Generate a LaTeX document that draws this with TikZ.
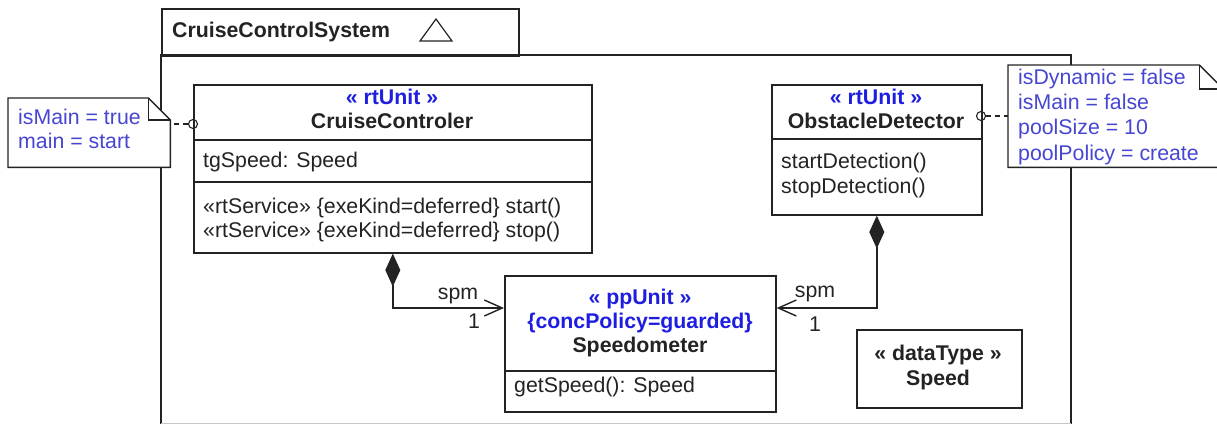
\documentclass[tikz,border=0pt]{standalone}
\usepackage{fontspec}
\setmainfont{Liberation Sans}
\usetikzlibrary{arrows.meta}
\definecolor{stereo}{RGB}{30,30,225}
\definecolor{notetxt}{RGB}{70,70,210}
\definecolor{ink}{RGB}{35,35,35}
\begin{document}
\begin{tikzpicture}[x=1pt,y=-1pt,
  box/.style={draw=ink, line width=1.6pt, fill=white, inner sep=0pt, anchor=north west},
  sep/.style={draw=ink, line width=1.4pt},
  txt/.style={inner sep=0pt, text=ink, font=\fontsize{21.3}{24}\selectfont, anchor=mid, yshift=-4pt},
  ltxt/.style={txt, anchor=mid west},
  btxt/.style={txt, font=\fontsize{21.3}{24}\selectfont\bfseries},
  stxt/.style={btxt, text=stereo},
  ntxt/.style={txt, anchor=mid west, text=notetxt},
  notebox/.style={draw=ink, line width=1.4pt, fill=white},
  notenode/.style={inner sep=0pt, anchor=north west},
  port/.style={circle, draw=ink, line width=1.1pt, minimum size=9pt, inner sep=0pt},
  link/.style={draw=ink, line width=1.3pt, dash pattern=on 5pt off 4pt},
  comp/.style={draw=ink, line width=1.6pt,
    {Diamond[length=33pt,width=15pt,fill=ink]}-{Straight Barb[length=18pt,width=16pt,line width=1.4pt]}}
]
\useasboundingbox (0,0) rectangle (1217,424);

% frame
\node[box, line width=1.8pt, minimum width=357pt, minimum height=47pt] (tab) at (161,8) {};
\node[btxt, anchor=mid west] (tabtitle) at (172,31) {CruiseControlSystem};
\draw[ink, line width=1.2pt] (420,41) -- (452,41) -- (436,19) -- cycle;
\draw[ink, line width=1.8pt] (161,424) -- (161,55) -- (1071,55) -- (1071,424);
\draw[gray!45, line width=1pt] (161,423) -- (1071,423);

% CruiseControler
\node[box, minimum width=398pt, minimum height=168pt] (cc) at (193,84) {};
\node[stxt] (ccst) at (392,98) {« rtUnit »};
\node[btxt] (ccname) at (392,122) {CruiseControler};
\draw[sep] (193,140) -- (591,140);
\node[ltxt] (ccattr) at (203,161) {tgSpeed: Speed};
\draw[sep] (193,182) -- (591,182);
\node[ltxt] (ccop1) at (203,207) {«rtService» \{exeKind=deferred\} start()};
\node[ltxt] (ccop2) at (203,231) {«rtService» \{exeKind=deferred\} stop()};

% ObstacleDetector
\node[box, minimum width=210pt, minimum height=130pt] (od) at (771,84) {};
\node[stxt] (odst) at (876,98) {« rtUnit »};
\node[btxt] (odname) at (876,122) {ObstacleDetector};
\draw[sep] (771,139) -- (981,139);
\node[ltxt] (odop1) at (781,162) {startDetection()};
\node[ltxt] (odop2) at (781,187) {stopDetection()};

% Speedometer
\node[box, minimum width=271pt, minimum height=136pt] (spd) at (504,275) {};
\node[stxt] (spdst) at (640,298) {« ppUnit »};
\node[stxt] (spdpol) at (640,322) {\{concPolicy=guarded\}};
\node[btxt] (spdname) at (640,346) {Speedometer};
\draw[sep] (504,371) -- (775,371);
\node[ltxt] (spdop) at (514,386) {getSpeed(): Speed};

% Speed datatype
\node[box, minimum width=165pt, minimum height=78pt] (dt) at (856,329) {};
\node[btxt] (dtst) at (938,354) {« dataType »};
\node[btxt] (dtname) at (938,379) {Speed};

% compositions
\draw[comp] (cc.south) |- ([yshift=-33pt]spd.north west);
\node[txt] (spm1) at (458,293) {spm};
\node[txt] (one1) at (474,322) {1};
\draw[comp] (od.south) |- ([yshift=-33pt]spd.north east);
\node[txt] (spm2) at (815,291) {spm};
\node[txt] (one2) at (815,325) {1};

% left note
\node[notenode, minimum width=162pt, minimum height=69pt] (n1) at (8,98) {};
\draw[notebox] (n1.north west) -- ([xshift=-22pt]n1.north east) -- ([yshift=-22pt]n1.north east)
  -- (n1.south east) -- (n1.south west) -- cycle;
\draw[ink, line width=1.4pt] ([xshift=-22pt]n1.north east) -- ([xshift=-22pt,yshift=-22pt]n1.north east)
  -- ([yshift=-22pt]n1.north east);
\node[ntxt] (n1a) at (18,118) {isMain = true};
\node[ntxt] (n1b) at (18,142) {main = start};
\node[port] (p1) at (193,124) {};
\draw[link] (p1) -- (n1.east |- p1);

% right note
\node[notenode, minimum width=215pt, minimum height=102pt] (n2) at (1008,65) {};
\draw[notebox] (n2.north west) -- ([xshift=-24pt]n2.north east) -- ([yshift=-24pt]n2.north east)
  -- (n2.south east) -- (n2.south west) -- cycle;
\draw[ink, line width=1.4pt] ([xshift=-24pt]n2.north east) -- ([xshift=-24pt,yshift=-24pt]n2.north east)
  -- ([yshift=-24pt]n2.north east);
\node[ntxt] (n2a) at (1018,78) {isDynamic = false};
\node[ntxt] (n2b) at (1018,103) {isMain = false};
\node[ntxt] (n2c) at (1018,128) {poolSize = 10};
\node[ntxt] (n2d) at (1018,154) {poolPolicy = create};
\node[port] (p2) at (981,116) {};
\draw[link] (p2) -- (n2.west |- p2);
\end{tikzpicture}
\end{document}
